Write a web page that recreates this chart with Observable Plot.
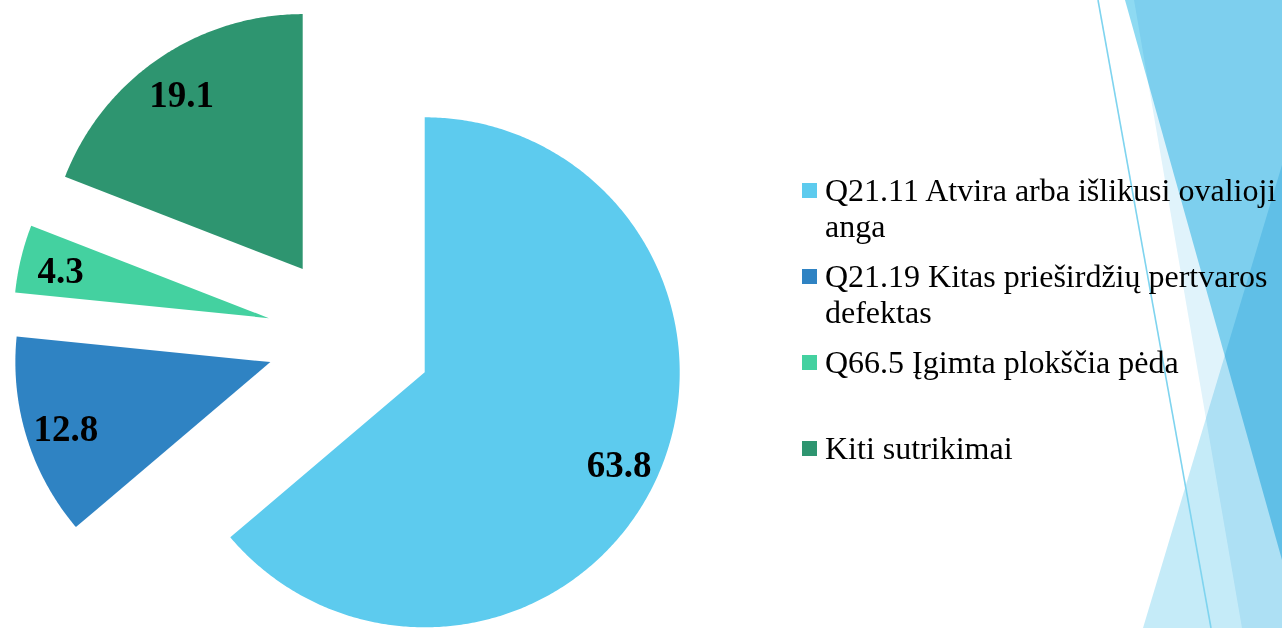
<!DOCTYPE html>
<html>
<head>
<meta charset="utf-8">
<script src="https://cdn.jsdelivr.net/npm/d3@7"></script>
<script src="https://cdn.jsdelivr.net/npm/@observablehq/plot@0.6"></script>
<style>
  html, body { margin: 0; padding: 0; background: #fff; }
  #wrap { position: relative; width: 1282px; height: 628px; overflow: hidden; background: #fff; }
  #deco, #chart { position: absolute; left: 0; top: 0; }
  #legend { position: absolute; left: 802px; top: 172px; font-family: "Liberation Serif", "Times New Roman", serif; font-size: 32px; line-height: 36px; color: #000; }
  .item { position: relative; height: 86px; padding-left: 23px; width: 480px; box-sizing: border-box; }
  .sw { position: absolute; left: 0; top: 11px; width: 15px; height: 15px; }
</style>
</head>
<body>
<div id="wrap">
  <svg id="deco" width="1282" height="628">
    <g style="isolation:isolate">
      <polygon points="1134,0 1282,0 1282,628 1242,628" fill="#e0f3fb" style="mix-blend-mode:multiply"/>
      <polygon points="1282,165 1282,628 1143,628" fill="#c5ebf8" style="mix-blend-mode:multiply"/>
      <polygon points="1125,0 1282,0 1282,560" fill="#8edaf2" style="mix-blend-mode:multiply"/>
      <line x1="1098" y1="0" x2="1211" y2="628" stroke="#7fd4ef" stroke-width="1.6"/>
    </g>
  </svg>
  <div id="chart"></div>
  <div id="legend"></div>
</div>
<script>
// ---- data ----
const categories = [
  "Q21.11 Atvira arba išlikusi ovalioji anga",
  "Q21.19 Kitas prieširdžių pertvaros defektas",
  "Q66.5 Įgimta plokščia pėda",
  "Kiti sutrikimai"
];
const values = [63.8, 12.8, 4.3, 19.1];
const colors = ["#5DCBEE", "#2F83C3", "#44D1A0", "#2E9570"];

// ---- layout ----
const W = 1282, H = 628;
const R = 255;            // pie radius in px
const CX = 349, CY = 337; // pie centre in px (y down)
const EXPLODE = 0.325;    // explode distance, in radii
const LABEL_R = 0.84;     // label distance from slice vertex, in radii

const total = d3.sum(values);
let acc = 0;
const slices = values.map((v, i) => {
  const a0 = acc / total * 2 * Math.PI;
  acc += v;
  const a1 = acc / total * 2 * Math.PI;
  const mid = (a0 + a1) / 2;
  return {name: categories[i], value: v, a0, a1, mid,
          ox: EXPLODE * Math.sin(mid), oy: EXPLODE * Math.cos(mid)};
});

// polygon points for each slice (angle clockwise from 12 o'clock, y up)
const pts = [];
for (const s of slices) {
  pts.push({name: s.name, x: s.ox, y: s.oy});
  const n = Math.max(8, Math.ceil((s.a1 - s.a0) / (Math.PI / 360)));
  for (let k = 0; k <= n; k++) {
    const a = s.a0 + (s.a1 - s.a0) * k / n;
    pts.push({name: s.name, x: s.ox + Math.sin(a), y: s.oy + Math.cos(a)});
  }
  pts.push({name: s.name, x: s.ox, y: s.oy});
}

const labels = slices.map(s => ({
  text: s.value.toFixed(1),
  x: s.ox + LABEL_R * Math.sin(s.mid),
  y: s.oy + LABEL_R * Math.cos(s.mid)
}));

const plot = Plot.plot({
  width: W, height: H, margin: 0,
  style: {background: "transparent", overflow: "visible"},
  x: {domain: [-CX / R, (W - CX) / R], axis: null},
  y: {domain: [-(H - CY) / R, CY / R], axis: null},
  color: {domain: categories, range: colors},
  marks: [
    Plot.line(pts, {x: "x", y: "y", z: "name", fill: "name", stroke: "none", curve: "linear"}),
    Plot.text(labels, {x: "x", y: "y", text: "text", fontSize: 37, fontWeight: "bold",
      fontFamily: "Liberation Serif", fill: "#000", textAnchor: "middle", lineAnchor: "middle", dy: 3})
  ]
});
document.getElementById("chart").appendChild(plot);

// legend
const leg = document.getElementById("legend");
categories.forEach((c, i) => {
  const item = document.createElement("div");
  item.className = "item";
  const sw = document.createElement("span");
  sw.className = "sw";
  sw.style.background = colors[i];
  item.appendChild(sw);
  item.appendChild(document.createTextNode(c));
  leg.appendChild(item);
});
</script>
</body>
</html>
